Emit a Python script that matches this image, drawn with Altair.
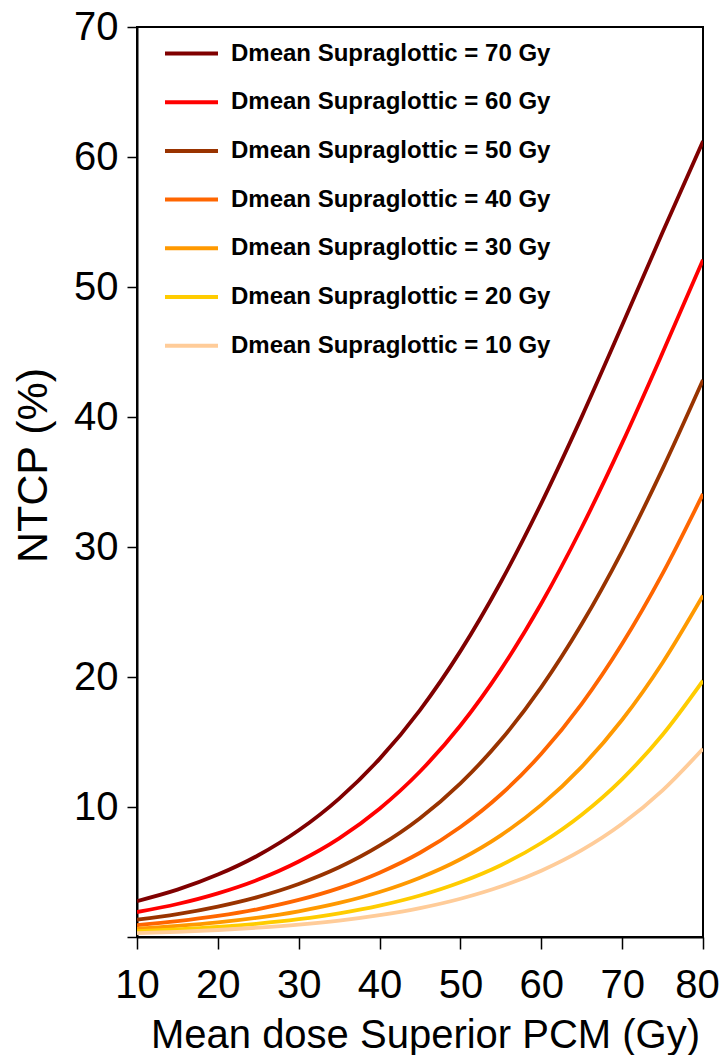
import altair as alt
import pandas as pd

# Mean dose superior PCM (Gy)
dose_pcm = [10, 15, 20, 25, 30, 35, 40, 45, 50, 55, 60, 65, 70, 75, 80]

# NTCP (%), one list per supraglottic mean dose
ntcp_70 = [2.76, 3.64, 4.80, 6.29, 8.21, 10.65, 13.70, 17.46, 21.99, 27.31, 33.36, 40.01, 47.05, 54.21, 61.21]
ntcp_60 = [1.92, 2.54, 3.36, 4.42, 5.81, 7.59, 9.87, 12.73, 16.27, 20.57, 25.65, 31.50, 37.99, 44.94, 52.10]
ntcp_50 = [1.33, 1.76, 2.34, 3.09, 4.08, 5.36, 7.02, 9.14, 11.82, 15.15, 19.22, 24.07, 29.69, 36.01, 42.85]
ntcp_40 = [0.92, 1.22, 1.62, 2.15, 2.85, 3.76, 4.95, 6.48, 8.46, 10.96, 14.09, 17.93, 22.55, 27.95, 34.08]
ntcp_30 = [0.64, 0.85, 1.12, 1.49, 1.98, 2.62, 3.46, 4.56, 5.98, 7.82, 10.16, 13.09, 16.71, 21.10, 26.27]
ntcp_20 = [0.44, 0.59, 0.78, 1.03, 1.37, 1.82, 2.41, 3.19, 4.21, 5.52, 7.23, 9.41, 12.15, 15.56, 19.72]
ntcp_10 = [0.30, 0.40, 0.54, 0.72, 0.95, 1.26, 1.68, 2.22, 2.94, 3.88, 5.10, 6.68, 8.71, 11.28, 14.48]

series_labels = [
    "Dmean Supraglottic = 70 Gy",
    "Dmean Supraglottic = 60 Gy",
    "Dmean Supraglottic = 50 Gy",
    "Dmean Supraglottic = 40 Gy",
    "Dmean Supraglottic = 30 Gy",
    "Dmean Supraglottic = 20 Gy",
    "Dmean Supraglottic = 10 Gy",
]
series_values = [ntcp_70, ntcp_60, ntcp_50, ntcp_40, ntcp_30, ntcp_20, ntcp_10]
series_colors = ["#800000", "#FF0000", "#993300", "#FF6600", "#FF9900", "#FFCC00", "#FFCC99"]

x_ticks = [10, 20, 30, 40, 50, 60, 70, 80]
y_ticks = [0, 10, 20, 30, 40, 50, 60, 70]

rows = []
for order, (lab, vals) in enumerate(zip(series_labels, series_values)):
    for d, v in zip(dose_pcm, vals):
        rows.append({"dose": d, "ntcp": v, "series": lab, "order": order})
df = pd.DataFrame(rows)

FONT = "Liberation Sans"

chart = (
    alt.Chart(df)
    .mark_line(strokeWidth=3.8, interpolate="monotone", clip=True)
    .encode(
        x=alt.X(
            "dose:Q",
            scale=alt.Scale(domain=[10, 80], nice=False, zero=False),
            axis=alt.Axis(
                title="Mean dose Superior PCM (Gy)",
                values=x_ticks,
                grid=False,
                tickSize=12,
                tickWidth=1.5,
                tickColor="black",
                domainColor="black",
                domainWidth=2,
                labelFontSize=40,
                labelPadding=16,
                labelFlush=False,
                labelOverlap=False,
                labelOffset={"condition": {"test": "datum.value == 80", "value": -6}, "value": 0},
                labelColor="black",
                labelFont=FONT,
                titleFont=FONT,
                titleFontSize=40,
                titleFontWeight="normal",
                titleColor="black",
                titleX=288,
                titleY=110,
                titleBaseline="alphabetic",
            ),
        ),
        y=alt.Y(
            "ntcp:Q",
            scale=alt.Scale(domain=[0, 70], nice=False),
            axis=alt.Axis(
                title="NTCP (%)",
                values=y_ticks,
                labelExpr="datum.value == 0 ? '' : datum.label",
                grid=False,
                tickSize=10,
                tickWidth=1.5,
                tickColor="black",
                domainColor="black",
                domainWidth=2,
                labelFontSize=40,
                labelPadding=9,
                labelFlush=False,
                labelOverlap=False,
                labelColor="black",
                labelFont=FONT,
                titleFont=FONT,
                titleFontSize=43,
                titleFontWeight="normal",
                titleColor="black",
                titleX=-91,
                titleY=438,
                titleAngle=270,
                titleBaseline="alphabetic",
            ),
        ),
        color=alt.Color(
            "series:N",
            scale=alt.Scale(domain=series_labels, range=series_colors),
            legend=alt.Legend(
                title=None,
                orient="none",
                legendX=26,
                legendY=-2,
                padding=0,
                symbolType="stroke",
                symbolSize=2809,
                symbolStrokeWidth=4,
                rowPadding=7.7,
                labelOffset=11,
                labelFontSize=24,
                labelFontWeight="bold",
                labelFont=FONT,
                labelColor="black",
                labelLimit=500,
            ),
        ),
        order=alt.Order("order:Q"),
    )
    .properties(
        width=566,
        height=910,
        autosize=alt.AutoSizeParams(type="none"),
        padding={"left": 129, "top": 19, "right": 16, "bottom": 118},
    )
    .configure_view(stroke="black", strokeWidth=2)
)

chart.save("out.html", embed_options={"renderer": "svg", "actions": False})
